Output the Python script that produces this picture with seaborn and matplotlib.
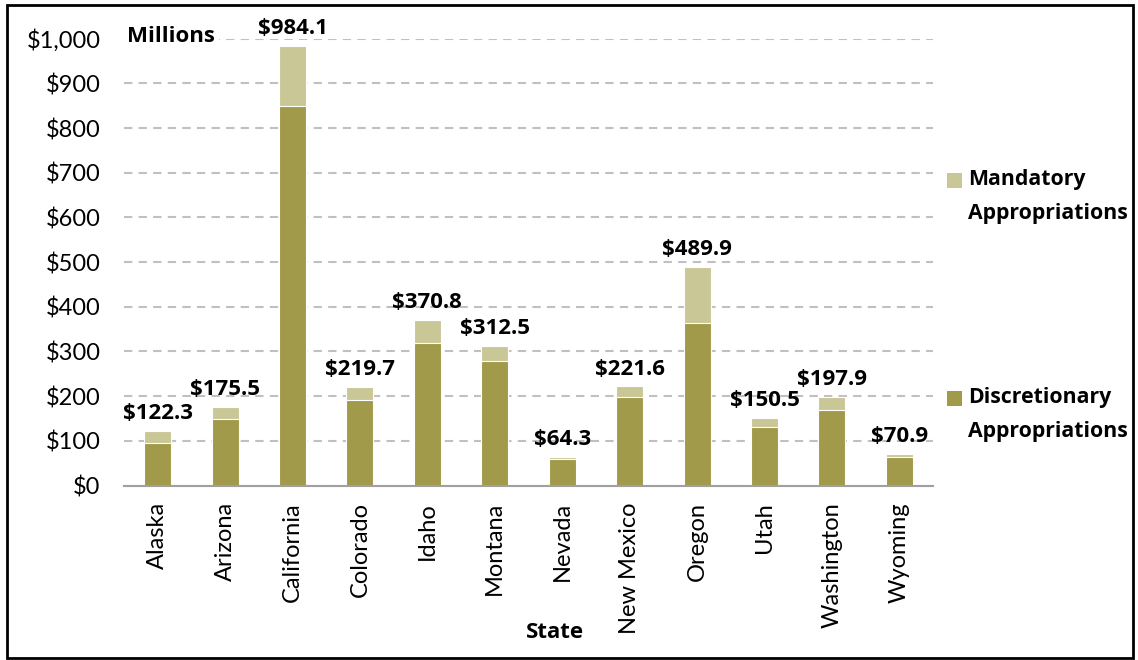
import matplotlib
matplotlib.use("Agg")
import matplotlib.pyplot as plt
from matplotlib.patches import Rectangle
from matplotlib.ticker import FuncFormatter
import pandas as pd
import seaborn as sns

states = ["Alaska", "Arizona", "California", "Colorado", "Idaho", "Montana",
          "Nevada", "New Mexico", "Oregon", "Utah", "Washington", "Wyoming"]
totals = [122.3, 175.5, 984.1, 219.7, 370.8, 312.5, 64.3, 221.6, 489.9, 150.5, 197.9, 70.9]
discretionary = [95, 148, 850, 191, 318, 278, 59, 197, 363, 130, 170, 64]
y_ticks = [0, 100, 200, 300, 400, 500, 600, 700, 800, 900, 1000]

dark = "#a19a4a"
light = "#cac797"

df = pd.DataFrame({"State": states, "Total": totals, "Discretionary": discretionary})

sns.set_theme(style="white")
plt.rcParams["font.family"] = ["Lato", "DejaVu Sans"]
plt.rcParams["text.color"] = "black"
plt.rcParams["axes.labelcolor"] = "black"
plt.rcParams["xtick.color"] = "black"
plt.rcParams["ytick.color"] = "black"
bold_font = ["Open Sans", "DejaVu Sans"]
BOLD_SIZE = 16
LEGEND_SIZE = 15.3

W, H = 1138, 660
fig = plt.figure(figsize=(W / 100, H / 100), dpi=100)
ax = fig.add_axes([124 / W, 1 - 485.5 / H, (933 - 124) / W, (485.5 - 38.7) / H])

# Full height in the light colour, discretionary share overlaid in the dark colour
sns.barplot(data=df, x="State", y="Total", color=light, width=0.4, saturation=1,
            edgecolor="white", linewidth=0.8, ax=ax, zorder=3)
sns.barplot(data=df, x="State", y="Discretionary", color=dark, width=0.4, saturation=1,
            edgecolor="white", linewidth=0.8, ax=ax, zorder=3)

ax.set_ylim(0, 1000)
ax.set_xlim(-0.5, len(states) - 0.5)
ax.set_yticks(y_ticks)
ax.yaxis.set_major_formatter(FuncFormatter(lambda v, p: f"${v:,.0f}"))
ax.grid(axis="y", color="#c0c0c0", linestyle=(0, (4, 3)), linewidth=1.5, zorder=0)
ax.grid(axis="x", visible=False)
for side in ["top", "right", "left"]:
    ax.spines[side].set_visible(False)
ax.spines["bottom"].set_color("#a0a0a0")
ax.spines["bottom"].set_linewidth(1.5)
ax.spines["bottom"].set_zorder(4)
ax.tick_params(axis="y", length=0, pad=17, labelsize=17, labelcolor="black")
ax.tick_params(axis="x", length=0, pad=12, labelsize=17, labelcolor="black", rotation=90)
ax.set_xlabel("")
ax.set_ylabel("")

# Value labels above each stacked bar
for i, t in enumerate(totals):
    ax.annotate(f"${t:,.1f}", xy=(i, t), xytext=(0, 5), textcoords="offset points",
                ha="center", va="bottom", fontsize=BOLD_SIZE, fontweight="bold",
                family=bold_font, color="black", clip_on=False, zorder=5)

# Unit label in the top-left corner of the plot
fig.text(127 / W, 1 - 37 / H, "Millions", ha="left", va="center",
         fontsize=BOLD_SIZE, fontweight="bold", family=bold_font,
         bbox=dict(facecolor="white", edgecolor="none", pad=3), zorder=6)

# Axis title
fig.text(555 / W, 1 - 632 / H, "State", ha="center", va="center",
         fontsize=BOLD_SIZE, fontweight="bold", family=bold_font)

# Legend: swatch beside the first line of each two-line entry
legend_entries = [
    (light, ["Mandatory", "Appropriations"], 180),
    (dark, ["Discretionary", "Appropriations"], 398),
]
for colour, lines, y_px in legend_entries:
    fig.patches.append(Rectangle((947 / W, 1 - (y_px + 7.5) / H), 15 / W, 15 / H,
                                 transform=fig.transFigure, facecolor=colour,
                                 edgecolor="none"))
    for k, line in enumerate(lines):
        fig.text(968 / W, 1 - (y_px + 33 * k) / H, line, ha="left", va="center",
                 fontsize=LEGEND_SIZE, fontweight="bold", family=bold_font)

# Outer frame
fig.patches.append(Rectangle((7 / W, 2 / H), 1126 / W, 653 / H,
                             transform=fig.transFigure, fill=False,
                             edgecolor="black", linewidth=2, zorder=10))

fig.savefig("out.png", dpi=100)
